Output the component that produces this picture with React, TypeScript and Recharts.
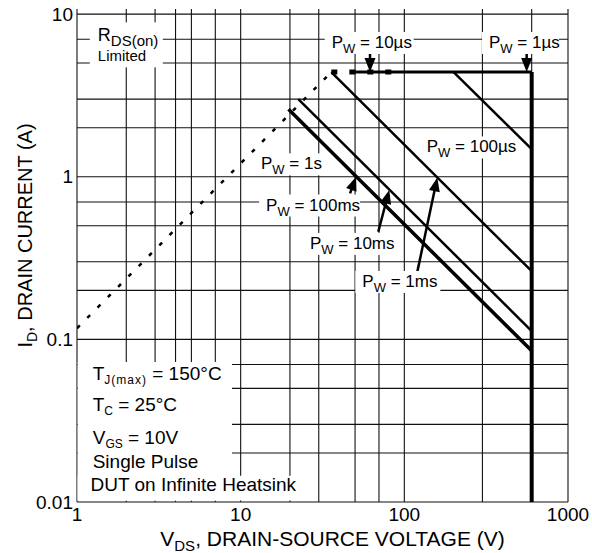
import React from 'react';
import {
  LineChart,
  Line,
  XAxis,
  YAxis,
  CartesianGrid,
  ReferenceDot,
  ReferenceLine,
  ReferenceArea,
} from 'recharts';

const FONT = '"Liberation Sans", Arial, Helvetica, sans-serif';

// ---- axes ----
const xTicks = [1, 10, 100, 1000];
const yTicks = [0.01, 0.1, 1, 10];
const xGridValues = [
  1, 2, 3, 4, 5, 6, 7, 8, 9,
  10, 20, 30, 40, 50, 60, 70, 80, 90,
  100, 200, 300, 400, 500, 600, 700, 800, 900,
  1000,
];
const yGridValues = [
  0.01, 0.02, 0.03, 0.04, 0.05, 0.06, 0.07, 0.08, 0.09,
  0.1, 0.2, 0.3, 0.4, 0.5, 0.6, 0.7, 0.8, 0.9,
  1, 2, 3, 4, 5, 6, 7, 8, 9,
  10,
];

// ---- series (V_DS in volts, I_D in amps) ----
const rdsOnV = [1, 35.8];
const rdsOnI = [0.117, 4.4];
const tenUsV = [35.8, 84];
const tenUsI = [4.4, 4.4];
const oneUsV = [50, 600];
const oneUsI = [4.4, 4.4];
const bvdssV = [600, 600];
const bvdssI = [4.4, 0.01];
const hundredUsV = [200, 600];
const hundredUsI = [4.4, 1.48];
const oneMsV = [35.8, 600];
const oneMsI = [4.4, 0.2625];
const tenMsV = [22.5, 600];
const tenMsI = [3.0, 0.1125];
const hundredMsV = [19.6, 600];
const hundredMsI = [2.6, 0.085];

const zip = (v: number[], i: number[]) => v.map((x, k) => ({ v: x, i: i[k] }));

// ---- annotations (anchored in data coordinates) ----
const pwNames = ['10µs', '1µs', '100µs', '1s', '100ms', '10ms', '1ms'];
const pwV = [36.0, 329, 137, 13.3, 14.3, 26.5, 55.4];
const pwI = [6.19, 6.19, 1.41, 1.11, 0.62, 0.36, 0.21];
const pwBoxW = [82, 70, 88, 64, 94, 85, 78];

const arrowFromV = [61.7, 559, 46.6, 69.3, 120];
const arrowFromI = [6.0, 6.0, 0.79, 0.459, 0.26];
const arrowToV = [61.7, 559, 50.7, 80.9, 159];
const arrowToI = [4.4, 4.4, 1.0, 0.83, 0.99];

const condMain = ['T', 'T', 'V', 'Single Pulse', 'DUT on Infinite Heatsink'];
const condSub = ['J(max)', 'C', 'GS', '', ''];
const condRest = [' = 150°C', ' = 25°C', ' = 10V', '', ''];
const condV = [1.247, 1.247, 1.247, 1.247, 1.21];
const condI = [0.0565, 0.0361, 0.0228, 0.0161, 0.01165];

const PwLabel = ({ cx, cy, name, w }: any) => (
  <g>
    <rect x={cx - 7} y={cy - 16} width={w + 7} height={22} fill="#fff" />
    <text x={cx} y={cy} fontSize={17} fontFamily={FONT} fill="#000">
      <tspan>P</tspan>
      <tspan fontSize={13} dy={5}>W</tspan>
      <tspan dy={-5}>{' = ' + name}</tspan>
    </text>
  </g>
);

const RdsLabel = ({ cx, cy }: any) => (
  <g>
    <rect x={cx - 8} y={cy - 19} width={73} height={45} fill="#fff" />
    <text x={cx} y={cy} fontSize={18} fontFamily={FONT} fill="#000">
      <tspan>R</tspan>
      <tspan fontSize={15} dy={5}>DS(on)</tspan>
    </text>
    <text x={cx} y={cy + 20} fontSize={15} fontFamily={FONT} fill="#000">
      Limited
    </text>
  </g>
);

const CondLabel = ({ cx, cy, main, sub, rest }: any) => (
  <text x={cx} y={cy} fontSize={19} fontFamily={FONT} fill="#000">
    <tspan>{main}</tspan>
    {sub ? (
      <tspan fontSize={12} dy={4} letterSpacing={sub.length > 3 ? 1 : 0}>
        {sub}
      </tspan>
    ) : null}
    {rest ? <tspan dy={sub ? -4 : 0}>{rest}</tspan> : null}
  </text>
);

const Arrow = (p: any) => {
  const x1 = Number(p.x1);
  const y1 = Number(p.y1);
  const x2 = Number(p.x2);
  const y2 = Number(p.y2);
  const dx = x2 - x1;
  const dy = y2 - y1;
  const len = Math.sqrt(dx * dx + dy * dy) || 1;
  const ux = dx / len;
  const uy = dy / len;
  const hl = 14;
  const hw = 5.5;
  const bx = x2 - ux * hl;
  const by = y2 - uy * hl;
  const pts = `${x2},${y2} ${bx - uy * hw},${by + ux * hw} ${bx + uy * hw},${by - ux * hw}`;
  return (
    <g>
      <line x1={x1} y1={y1} x2={bx + ux * 2} y2={by + uy * 2} stroke="#000" strokeWidth={2.5} />
      <polygon points={pts} fill="#000" />
    </g>
  );
};

const XTitle = (props: any) => {
  const vb = props.viewBox || { x: 77, y: 502, width: 491, height: 51 };
  return (
    <text
      x={vb.x + vb.width / 2 + 10}
      y={vb.y + 44}
      textAnchor="middle"
      fontSize={21}
      fontFamily={FONT}
      fill="#000"
    >
      <tspan>V</tspan>
      <tspan fontSize={15} dy={5}>DS</tspan>
      <tspan dy={-5}>, DRAIN-SOURCE VOLTAGE (V)</tspan>
    </text>
  );
};

const YTitle = (props: any) => {
  const vb = props.viewBox || { x: 0, y: 9, width: 77, height: 493 };
  const x = vb.x + 32;
  const y = vb.y + vb.height / 2 - 20;
  return (
    <text
      x={x}
      y={y}
      transform={`rotate(-90, ${x}, ${y})`}
      textAnchor="middle"
      fontSize={20}
      fontFamily={FONT}
      fill="#000"
    >
      <tspan>I</tspan>
      <tspan fontSize={14} dy={5}>D</tspan>
      <tspan dy={-5}>, DRAIN CURRENT (A)</tspan>
    </text>
  );
};

const series = [
  { key: 'rds', data: zip(rdsOnV, rdsOnI), w: 2.5, dash: '4 10.6' },
  { key: 'tenUs', data: zip(tenUsV, tenUsI), w: 5, dash: '6 12' },
  { key: 'oneUs', data: zip(oneUsV, oneUsI), w: 3, dash: undefined },
  { key: 'bvdss', data: zip(bvdssV, bvdssI), w: 4, dash: undefined },
  { key: 'hundredUs', data: zip(hundredUsV, hundredUsI), w: 2.5, dash: undefined },
  { key: 'oneMs', data: zip(oneMsV, oneMsI), w: 2.5, dash: undefined },
  { key: 'tenMs', data: zip(tenMsV, tenMsI), w: 2.5, dash: undefined },
  { key: 'hundredMs', data: zip(hundredMsV, hundredMsI), w: 3.5, dash: undefined },
];

export default function App() {
  return (
    <div style={{ position: 'absolute', left: 0, top: 0, background: '#fff' }}>
      <LineChart
        width={592}
        height={553}
        margin={{ top: 9, right: 24, bottom: 0, left: 0 }}
      >
        <CartesianGrid
          stroke="#111"
          strokeWidth={1.1}
          horizontalValues={yGridValues}
          verticalValues={xGridValues}
        />
        <XAxis
          dataKey="v"
          type="number"
          scale="log"
          domain={[1, 1000]}
          allowDataOverflow
          ticks={xTicks}
          tickFormatter={(t: number) => String(t)}
          axisLine={false}
          tickLine={false}
          tickSize={0}
          tickMargin={6}
          height={51}
          tick={{ fontSize: 19, fill: '#000', fontFamily: FONT }}
          label={<XTitle />}
        />
        <YAxis
          dataKey="i"
          type="number"
          scale="log"
          domain={[0.01, 10.75]}
          allowDataOverflow
          ticks={yTicks}
          tickFormatter={(t: number) => String(t)}
          axisLine={false}
          tickLine={false}
          tickSize={0}
          tickMargin={4}
          width={77}
          tick={{ fontSize: 19, fill: '#000', fontFamily: FONT }}
          label={<YTitle />}
        />
        <ReferenceArea
          x1={1.01}
          x2={8.85}
          y1={0.0102}
          y2={0.0726}
          fill="#fff"
          fillOpacity={1}
          stroke="none"
          ifOverflow="visible"
        />
        <ReferenceArea
          x1={1.01}
          x2={24.7}
          y1={0.0102}
          y2={0.0145}
          fill="#fff"
          fillOpacity={1}
          stroke="none"
          ifOverflow="visible"
        />
        {series.map((s) => (
          <Line
            key={s.key}
            data={s.data}
            dataKey="i"
            type="linear"
            stroke="#000"
            strokeWidth={s.w}
            strokeDasharray={s.dash}
            dot={false}
            activeDot={false}
            isAnimationActive={false}
          />
        ))}
        <ReferenceDot
          x={1.34}
          y={6.8}
          r={1}
          ifOverflow="visible"
          shape={(p: any) => <RdsLabel cx={p.cx} cy={p.cy} />}
        />
        {pwNames.map((n, k) => (
          <ReferenceDot
            key={'pw' + k}
            x={pwV[k]}
            y={pwI[k]}
            r={1}
            ifOverflow="visible"
            shape={(p: any) => <PwLabel cx={p.cx} cy={p.cy} name={n} w={pwBoxW[k]} />}
          />
        ))}
        {condMain.map((m, k) => (
          <ReferenceDot
            key={'cond' + k}
            x={condV[k]}
            y={condI[k]}
            r={1}
            ifOverflow="visible"
            shape={(p: any) => (
              <CondLabel cx={p.cx} cy={p.cy} main={m} sub={condSub[k]} rest={condRest[k]} />
            )}
          />
        ))}
        {arrowFromV.map((v, k) => (
          <ReferenceLine
            key={'arrow' + k}
            segment={[
              { x: v, y: arrowFromI[k] },
              { x: arrowToV[k], y: arrowToI[k] },
            ]}
            ifOverflow="visible"
            shape={(p: any) => <Arrow {...p} />}
          />
        ))}
      </LineChart>
    </div>
  );
}
